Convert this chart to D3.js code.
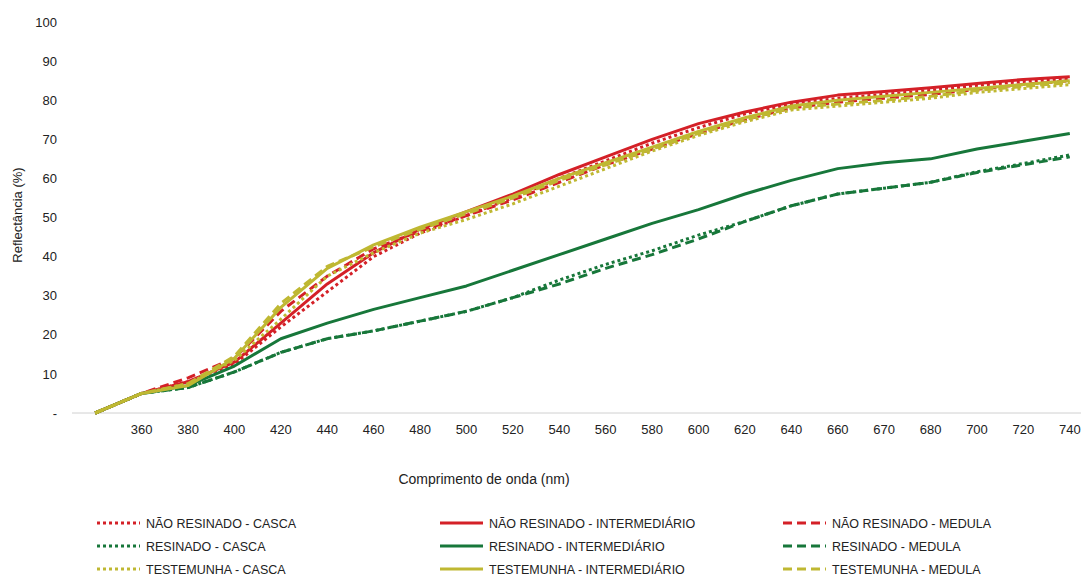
<!DOCTYPE html>
<html>
<head>
<meta charset="utf-8">
<script src="https://cdn.jsdelivr.net/npm/d3@7"></script>
<style>
  html, body { margin: 0; padding: 0; background: #fff; }
  svg { display: block; font-family: "Liberation Sans", Arial, sans-serif; }
</style>
</head>
<body>
<svg id="chart" width="1081" height="575"></svg>
<script>
// ---- data ----
const categories = ["", "360", "380", "400", "420", "440", "460", "480", "500", "520", "540",
  "560", "580", "600", "620", "640", "660", "670", "680", "700", "720", "740"];

const naoResinadoCasca =        [0, 5, 8, 12.5, 22, 31, 40, 46, 50.5, 55, 60, 64.5, 69, 73, 76.5, 79, 80.5, 81.5, 82.5, 83.8, 84.8, 85.5];
const naoResinadoIntermediario = [0, 5, 8, 13, 23, 33, 41, 47, 51.5, 56, 61, 65.5, 70, 74, 77, 79.5, 81.3, 82.2, 83.2, 84.3, 85.3, 86];
const naoResinadoMedula =       [0, 5, 9, 14, 26, 35, 42, 46.5, 50.5, 54.5, 59, 63.5, 67.5, 71.5, 75, 78, 79.5, 80.5, 81.5, 82.8, 84, 85];
const resinadoCasca =           [0, 5, 6.5, 10.5, 15.5, 19, 21, 23.5, 26, 29.5, 34, 38, 41.5, 45.5, 49, 53, 56, 57.5, 59, 61.7, 63.8, 66];
const resinadoIntermediario =   [0, 5, 7, 12, 19, 23, 26.5, 29.5, 32.5, 36.5, 40.5, 44.5, 48.5, 52, 56, 59.5, 62.5, 64, 65, 67.5, 69.5, 71.5];
const resinadoMedula =          [0, 5, 6.5, 10.5, 15.5, 19, 21, 23.5, 26, 29.5, 33, 37, 40.5, 44.5, 49, 53, 56, 57.5, 59, 61.5, 63.5, 65.5];
const testemunhaCasca =         [0, 5, 7.5, 13.5, 24, 35, 41, 46, 49.5, 53.5, 58, 62.5, 67, 71, 74.5, 77.5, 78.5, 79.5, 80.5, 82, 83, 84];
const testemunhaIntermediario = [0, 5, 7, 14, 27, 37, 43, 47.5, 51.5, 55.5, 60, 64, 68, 72, 75.5, 78.5, 80, 81, 82, 83, 84, 85];
const testemunhaMedula =        [0, 5, 7.5, 14.5, 28, 37.5, 42.5, 47, 51, 55, 59.5, 63.5, 67.5, 71.5, 75, 78, 79, 80, 81, 82.5, 83.5, 84.5];

const yTicks = [0, 10, 20, 30, 40, 50, 60, 70, 80, 90, 100];

const seriesNames = [
  "NÃO RESINADO - CASCA", "NÃO RESINADO - INTERMEDIÁRIO", "NÃO RESINADO - MEDULA",
  "RESINADO - CASCA", "RESINADO - INTERMEDIÁRIO", "RESINADO - MEDULA",
  "TESTEMUNHA - CASCA", "TESTEMUNHA - INTERMEDIÁRIO", "TESTEMUNHA - MEDULA"
];
const seriesValues = [
  naoResinadoCasca, naoResinadoIntermediario, naoResinadoMedula,
  resinadoCasca, resinadoIntermediario, resinadoMedula,
  testemunhaCasca, testemunhaIntermediario, testemunhaMedula
];

// ---- styles ----
const RED = "#d42027", GREEN = "#17773a", YEL = "#bfb832";
const colors = [RED, RED, RED, GREEN, GREEN, GREEN, YEL, YEL, YEL];
const dashes = ["3,3", null, "9,5", "3,3", null, "9,5", "3,3", null, "9,5"];

// ---- layout ----
const svg = d3.select("#chart");
const mLeft = 72, mRight = 1093, mTop = 22, mBottom = 413;

const x = d3.scaleBand().domain(categories).range([mLeft, mRight]).paddingInner(0).paddingOuter(0);
const y = d3.scaleLinear().domain([0, 100]).range([mBottom, mTop]);
const cx = c => x(c) + x.bandwidth() / 2;

// x baseline
svg.append("line").attr("x1", mLeft).attr("x2", 1081).attr("y1", y(0)).attr("y2", y(0))
  .attr("stroke", "#d0d0d0").attr("stroke-width", 1);

// y tick labels
const yAxis = d3.axisLeft(y).tickValues(yTicks).tickSize(0).tickPadding(0)
  .tickFormat(d => d === 0 ? "-" : d);
svg.append("g").attr("transform", `translate(57,0)`).call(yAxis)
  .call(g => g.select(".domain").remove())
  .selectAll("text").attr("font-size", 13).attr("fill", "#222")
  .attr("font-family", "Liberation Sans, Arial, sans-serif");

// x tick labels
const xAxis = d3.axisBottom(x).tickSize(0).tickPadding(0);
svg.append("g").attr("transform", `translate(0,${mBottom + 12})`).call(xAxis)
  .call(g => g.select(".domain").remove())
  .selectAll("text").attr("font-size", 13).attr("fill", "#222")
  .attr("font-family", "Liberation Sans, Arial, sans-serif");

// axis titles
svg.append("text").attr("transform", "translate(22,215) rotate(-90)")
  .attr("text-anchor", "middle").attr("font-size", 13).attr("fill", "#222")
  .text("Reflectância (%)");
svg.append("text").attr("x", 484).attr("y", 484)
  .attr("text-anchor", "middle").attr("font-size", 14).attr("fill", "#222")
  .text("Comprimento de onda (nm)");

// lines
const line = d3.line().x((d, i) => cx(categories[i])).y(d => y(d));
seriesValues.forEach((vals, k) => {
  svg.append("path").datum(vals)
    .attr("d", line)
    .attr("fill", "none")
    .attr("stroke", colors[k])
    .attr("stroke-width", 3)
    .attr("stroke-linejoin", "round")
    .attr("stroke-dasharray", dashes[k]);
});

// legend
const colX = [97, 440, 783];
const rowY = [523, 546, 569];
seriesNames.forEach((name, k) => {
  const col = k % 3, row = Math.floor(k / 3);
  const g = svg.append("g");
  g.append("line").attr("x1", colX[col]).attr("x2", colX[col] + 43)
    .attr("y1", rowY[row]).attr("y2", rowY[row])
    .attr("stroke", colors[k]).attr("stroke-width", 3)
    .attr("stroke-dasharray", dashes[k]);
  g.append("text").attr("x", colX[col] + 49).attr("y", rowY[row] + 4.5)
    .attr("font-size", 12.5).attr("fill", "#222").text(name);
});
</script>
</body>
</html>
